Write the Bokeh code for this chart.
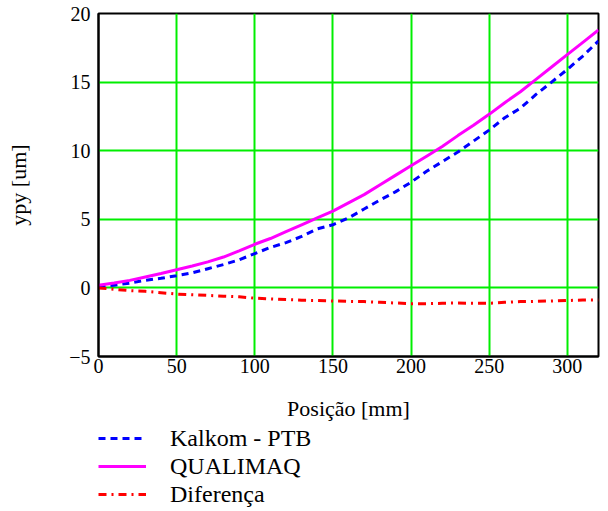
from bokeh.plotting import figure
from bokeh.layouts import column
from bokeh.models import Legend, LegendItem, FixedTicker, Range1d
from bokeh.embed import file_html
from bokeh.resources import INLINE

# Data
posicao = [0, 10, 20, 30, 40, 50, 60, 70, 80, 90, 100, 110, 120, 130, 140, 150,
           160, 170, 180, 190, 200, 210, 220, 230, 240, 250, 260, 270, 280, 290,
           300, 310, 320]
kalkom = [0.1, 0.2, 0.35, 0.55, 0.7, 0.89, 1.1, 1.4, 1.7, 2.05, 2.5, 2.95, 3.3,
          3.75, 4.3, 4.6, 5.1, 5.75, 6.4, 7.0, 7.7, 8.5, 9.2, 9.9, 10.7, 11.5,
          12.4, 13.1, 14.1, 15.0, 15.92, 16.9, 18.0]
qualimaq = [0.2, 0.35, 0.55, 0.8, 1.05, 1.32, 1.6, 1.9, 2.25, 2.7, 3.18, 3.6,
            4.1, 4.6, 5.1, 5.6, 6.2, 6.8, 7.5, 8.2, 8.9, 9.6, 10.3, 11.1, 11.85,
            12.65, 13.5, 14.3, 15.2, 16.1, 17.0, 17.9, 18.8]
diferenca = [0.0, -0.1, -0.2, -0.25, -0.35, -0.45, -0.5, -0.55, -0.6, -0.65,
             -0.75, -0.8, -0.85, -0.9, -0.92, -0.95, -0.98, -1.0, -1.05, -1.1,
             -1.15, -1.15, -1.12, -1.1, -1.12, -1.12, -1.05, -1.0, -0.98, -0.95,
             -0.92, -0.88, -0.88]
x_ticks = [0, 50, 100, 150, 200, 250, 300]
y_ticks = [-5, 0, 5, 10, 15, 20]
labels = ["Kalkom - PTB", "QUALIMAQ", "Diferença"]

FONT = "Liberation Serif"
colors = ["#0000ff", "#ff00ff", "#ff0000"]
dashes = ["7 5", "solid", "8 5 2 5"]

p = figure(width=600, height=423, output_backend="svg", toolbar_location=None,
           x_range=Range1d(0, 320), y_range=Range1d(-5, 20),
           min_border_left=98, min_border_right=2, min_border_top=13,
           min_border_bottom=67)

p.outline_line_color = "black"
p.outline_line_width = 2

for ax in (p.xaxis[0], p.yaxis[0]):
    ax.major_tick_line_color = None
    ax.minor_tick_line_color = None
    ax.major_tick_out = 0
    ax.major_tick_in = 0
    ax.axis_line_color = "black"
    ax.axis_line_width = 2
    ax.major_label_text_font = FONT
    ax.major_label_text_font_size = "20px"
    ax.major_label_text_color = "black"
    ax.axis_label_text_font = FONT
    ax.axis_label_text_font_size = "22px"
    ax.axis_label_text_font_style = "normal"
    ax.axis_label_text_color = "black"

p.xaxis.ticker = FixedTicker(ticks=x_ticks)
p.yaxis.ticker = FixedTicker(ticks=y_ticks)
p.xaxis.axis_label = "Posição [mm]"
p.yaxis.axis_label = "ypy [um]"
p.xaxis.major_label_standoff = 2
p.xaxis.axis_label_standoff = 20
p.yaxis.major_label_standoff = 8
p.yaxis.axis_label_standoff = 35

p.grid.grid_line_color = "#00ee00"
p.grid.grid_line_width = 2

series = [kalkom, qualimaq, diferenca]
for ys, c, d in zip(series, colors, dashes):
    p.line(posicao, ys, line_color=c, line_width=3, line_dash=d)

# Legend figure below the chart: same series, hidden renderers, legend only
q = figure(width=600, height=88, output_backend="svg", toolbar_location=None,
           x_range=Range1d(0, 320), y_range=Range1d(-5, 20),
           min_border_left=0, min_border_right=0, min_border_top=0,
           min_border_bottom=0)
q.axis.visible = False
q.grid.visible = False
q.outline_line_color = None

items = []
for lab, ys, c, d in zip(labels, series, colors, dashes):
    r = q.line(posicao, ys, line_color=c, line_width=3, line_dash=d, visible=False)
    items.append(LegendItem(label=lab, renderers=[r]))

legend = Legend(items=items, location=(0, 3), orientation="vertical",
                margin=0, padding=0, spacing=0,
                glyph_width=48, glyph_height=28, label_height=28,
                label_standoff=24,
                label_text_font=FONT, label_text_font_size="24px",
                label_text_color="black", label_text_baseline="middle",
                inactive_fill_alpha=0,
                border_line_color=None, background_fill_alpha=0)
q.add_layout(legend)

layout = column(p, q, spacing=0)
open("out.html", "w").write(file_html(layout, INLINE))
